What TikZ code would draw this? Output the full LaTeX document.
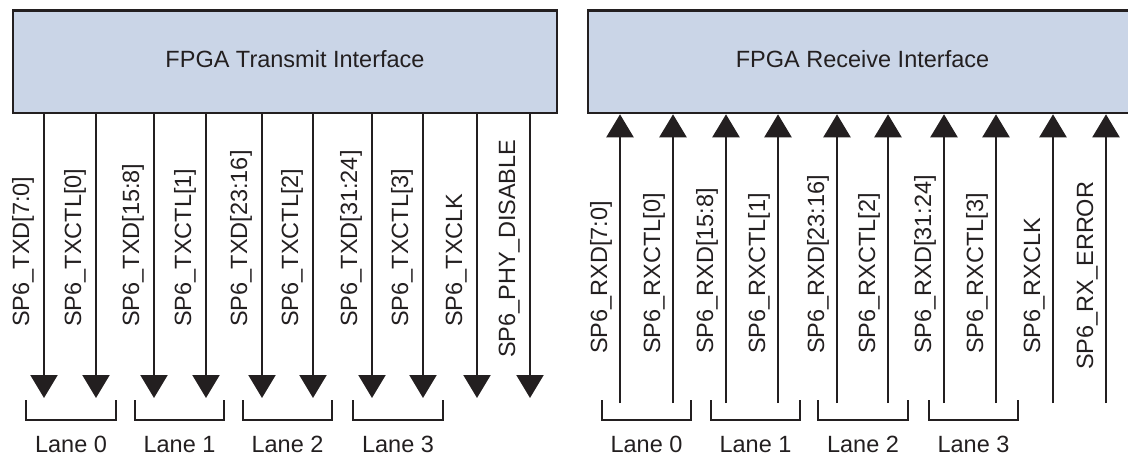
\documentclass[tikz,border=0pt]{standalone}
\usepackage{fontspec}
\setmainfont{Liberation Sans}
\usetikzlibrary{arrows.meta}
\definecolor{boxfill}{RGB}{202,213,231}
\definecolor{ink}{RGB}{35,31,32}
\begin{document}
\begin{tikzpicture}[x=1pt,y=-1pt,
  font=\fontsize{23.5}{28}\selectfont,
  box/.style={draw=ink, fill=boxfill, line width=2.6pt, inner sep=0pt, minimum height=102.3pt},
  sig/.style={draw=ink, line width=2.3pt, -{Triangle[width=27pt,length=23pt]}},
  lbl/.style={rotate=90, anchor=base west, inner sep=0pt, text=ink},
  lane/.style={anchor=base, inner sep=0pt, text=ink},
  title/.style={anchor=base, inner sep=0pt, text=ink},
  brk/.style={draw=ink, line width=2.2pt}]
\useasboundingbox (0,0) rectangle (1128,457);
% boxes
\node[box, minimum width=544pt] (tx) at (285,61.85) {};
\node[box, minimum width=549pt] (rx) at (862.5,61.85) {};
\node[title] (txt) at (295,67.3) {FPGA Transmit Interface};
\node[title] (rxt) at (862.5,67.3) {FPGA Receive Interface};
% transmit signals
\foreach \x/\n/\y/\s in {44/1/327/SP6\_TXD[7:0], 96/2/327/SP6\_TXCTL[0], 154/3/327/SP6\_TXD[15:8],
  206/4/327/SP6\_TXCTL[1], 262/5/327/SP6\_TXD[23:16], 313/6/327/SP6\_TXCTL[2],
  372/7/327/SP6\_TXD[31:24], 423/8/327/SP6\_TXCTL[3], 477/9/327/SP6\_TXCLK,
  530/10/358/SP6\_PHY\_DISABLE}{
  \coordinate (ta\n) at (\x,398);
  \draw[sig] (ta\n |- tx.south) -- (ta\n);
  \node[lbl] (tl\n) at (\x-15,\y) {\s};
}
% receive signals
\foreach \x/\n/\y/\s in {620/1/354/SP6\_RXD[7:0], 673/2/354/SP6\_RXCTL[0], 726/3/354/SP6\_RXD[15:8],
  778/4/354/SP6\_RXCTL[1], 837/5/354/SP6\_RXD[23:16], 888/6/354/SP6\_RXCTL[2],
  944/7/354/SP6\_RXD[31:24], 996/8/354/SP6\_RXCTL[3], 1053/9/354/SP6\_RXCLK,
  1106/10/370/SP6\_RX\_ERROR}{
  \coordinate (ra\n) at (\x,403);
  \draw[sig] (ra\n) -- (ra\n |- rx.south);
  \node[lbl] (rl\n) at (\x-13,\y) {\s};
}
% lane brackets
\foreach \a/\b/\n/\s in {26/116/0/tlane0, 135/224/1/tlane1, 243/332/2/tlane2, 353/443/3/tlane3,
  602/691/0/rlane0, 711/800/1/rlane1, 818/908/2/rlane2, 929/1018/3/rlane3}{
  \draw[brk] (\a,400) |- (\b,420) -- (\b,400);
  \node[lane] (\s) at ({(\a+\b)/2},452.5) {Lane \n};
}
\end{tikzpicture}
\end{document}
